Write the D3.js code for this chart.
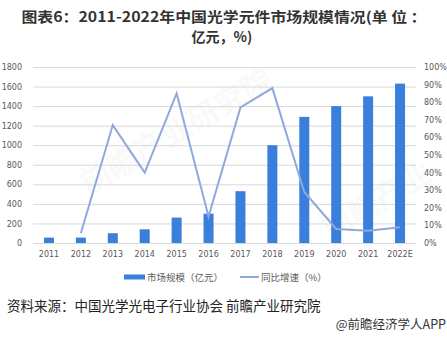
<!DOCTYPE html>
<html>
<head>
<meta charset="utf-8">
<script src="https://cdn.jsdelivr.net/npm/d3@7"></script>
<style>
  html, body { margin: 0; padding: 0; background: #fff; }
  svg { display: block; }
</style>
</head>
<body>
<svg id="chart" width="447" height="338"></svg>
<script>
// Market size (100 million CNY) and year-on-year growth (%)
const years = ["2011", "2012", "2013", "2014", "2015", "2016", "2017", "2018", "2019", "2020", "2021", "2022E"];
const marketSize = [55, 55, 100, 140, 260, 300, 530, 1000, 1290, 1400, 1500, 1630];
const growthRate = [null, 5.5, 67, 40, 85, 15, 77, 88, 29, 8, 7, 9];
const leftTicks = [0, 200, 400, 600, 800, 1000, 1200, 1400, 1600, 1800];
const rightTicks = [0, 10, 20, 30, 40, 50, 60, 70, 80, 90, 100];

const svg = d3.select("#chart");
const fontCN = "'Noto Sans CJK SC', 'Microsoft YaHei', sans-serif";
const fontNum = "'DejaVu Sans', 'Noto Sans', sans-serif";

// Title, two lines
svg.append("text")
  .attr("x", 224).attr("y", 22)
  .attr("text-anchor", "middle")
  .attr("font-family", fontCN).attr("font-weight", "bold").attr("font-size", 14)
  .attr("fill", "#333")
  .attr("textLength", 405).attr("lengthAdjust", "spacingAndGlyphs")
  .text("图表6：2011-2022年中国光学元件市场规模情况(单 位 ：");
svg.append("text")
  .attr("x", 222).attr("y", 42)
  .attr("text-anchor", "middle")
  .attr("font-family", fontCN).attr("font-weight", "bold").attr("font-size", 14)
  .attr("fill", "#333")
  .text("亿元，%)");

const plot = { left: 33, right: 416, top: 67, bottom: 243 };

const x = d3.scaleBand().domain(years).range([plot.left, plot.right]).paddingInner(0).paddingOuter(0);
const yL = d3.scaleLinear().domain([0, 1800]).range([plot.bottom, plot.top]);
const yR = d3.scaleLinear().domain([0, 100]).range([plot.bottom, plot.top]);

// Faint brand watermark
const wm = svg.append("g").attr("fill", "#d0d0d0").attr("fill-opacity", 0.13)
  .attr("font-family", fontCN).attr("font-weight", "bold");
wm.append("text").attr("transform", "translate(88,195) rotate(-30)")
  .attr("font-size", 31).text("前瞻产业研究院");
wm.append("text").attr("transform", "translate(330,240) rotate(-30)")
  .attr("font-size", 30).text("前瞻产业");

// Gridlines
svg.append("g")
  .selectAll("line")
  .data(leftTicks)
  .join("line")
  .attr("x1", plot.left).attr("x2", plot.right)
  .attr("y1", d => yL(d) + 0.5).attr("y2", d => yL(d) + 0.5)
  .attr("stroke", "#d9d9d9").attr("stroke-width", 1);

// Left axis
const axisL = svg.append("g")
  .attr("transform", `translate(${plot.left - 11},0)`)
  .call(d3.axisLeft(yL).tickValues(leftTicks).tickSize(0).tickPadding(0).tickFormat(d3.format("d")));
axisL.select(".domain").remove();
axisL.selectAll("text").attr("font-family", fontNum).attr("font-size", 8).attr("fill", "#595959");

// Right axis
const axisR = svg.append("g")
  .attr("transform", `translate(${plot.right + 8},0)`)
  .call(d3.axisRight(yR).tickValues(rightTicks).tickSize(0).tickPadding(0).tickFormat(d => d + "%"));
axisR.select(".domain").remove();
axisR.selectAll("text").attr("font-family", fontNum).attr("font-size", 8).attr("fill", "#595959");

// X axis
const axisX = svg.append("g")
  .attr("transform", `translate(0,${plot.bottom + 8})`)
  .call(d3.axisBottom(x).tickSize(0).tickPadding(0));
axisX.select(".domain").remove();
axisX.selectAll("text").attr("font-family", fontNum).attr("font-size", 8).attr("fill", "#595959");

// Bars
const barW = 10;
svg.append("g")
  .selectAll("rect")
  .data(years.map((yr, i) => ({ yr, v: marketSize[i] })))
  .join("rect")
  .attr("x", d => x(d.yr) + x.bandwidth() / 2 - barW / 2)
  .attr("y", d => yL(d.v))
  .attr("width", barW)
  .attr("height", d => yL(0) - yL(d.v))
  .attr("fill", "#3a7fdc");

// Growth line
const lineData = years.map((yr, i) => ({ yr, v: growthRate[i] })).filter(d => d.v !== null);
svg.append("path")
  .datum(lineData)
  .attr("fill", "none")
  .attr("stroke", "#8eaadb")
  .attr("stroke-width", 2)
  .attr("stroke-linejoin", "miter")
  .attr("d", d3.line().x(d => x(d.yr) + x.bandwidth() / 2).y(d => yR(d.v)));

// Legend
const lg = svg.append("g").attr("font-family", fontCN).attr("font-size", 9.5).attr("fill", "#595959");
lg.append("rect").attr("x", 124).attr("y", 274.5).attr("width", 21).attr("height", 5).attr("fill", "#3a7fdc");
lg.append("text").attr("x", 147).attr("y", 280.5).text("市场规模（亿元）");
lg.append("line").attr("x1", 240).attr("x2", 259).attr("y1", 277).attr("y2", 277)
  .attr("stroke", "#8eaadb").attr("stroke-width", 2);
lg.append("text").attr("x", 261).attr("y", 280.5).text("同比增速（%）");

// Source and credit
svg.append("text").attr("x", 7).attr("y", 310.5)
  .attr("font-family", fontCN).attr("font-size", 13.5).attr("fill", "#222")
  .text("资料来源：中国光学光电子行业协会 前瞻产业研究院");
svg.append("text").attr("x", 446).attr("y", 328.5).attr("text-anchor", "end")
  .attr("font-family", fontCN).attr("font-size", 12.5).attr("fill", "#333")
  .text("@前瞻经济学人APP");
</script>
</body>
</html>
